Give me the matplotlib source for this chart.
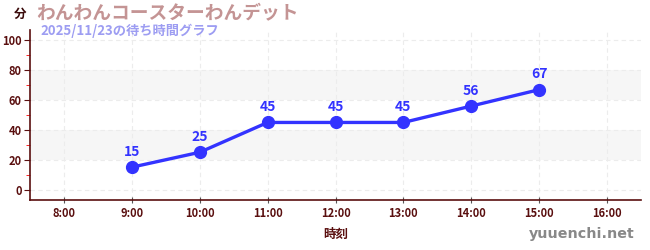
import matplotlib
matplotlib.use("Agg")
import matplotlib.pyplot as plt
from matplotlib.ticker import MultipleLocator

plt.rcParams['font.family'] = ['Noto Sans CJK JP', 'DejaVu Sans']

# データ
hours = [9, 10, 11, 12, 13, 14, 15]
waits = [15, 25, 45, 45, 45, 56, 67]
tick_hours = [8, 9, 10, 11, 12, 13, 14, 15, 16]
tick_labels = [f"{h}:00" for h in tick_hours]
bands = [(20, 40), (60, 80)]

title = "わんわんコースターわんデット"
subtitle = "2025/11/23の待ち時間グラフ"

dark = "#5a0f0f"
blue = "#3333ff"

fig = plt.figure(figsize=(6.5, 2.5), dpi=100)
ax = fig.add_axes([30 / 650, 50 / 250, 611 / 650, 170 / 250])

for lo, hi in bands:
    ax.axhspan(lo, hi, color="#f6f6f6", zorder=0, lw=0)

ax.plot(hours, waits, color=blue, lw=2.4, marker="o", ms=8.5, zorder=3)
for h, w in zip(hours, waits):
    ax.annotate(str(w), (h, w), xytext=(0, 6), textcoords="offset points",
                ha="center", va="bottom", color=blue, fontsize=10,
                fontweight="bold")

ax.set_xlim(7.5, 16.5)
ax.set_ylim(-7, 107)
ax.set_xticks(tick_hours)
ax.set_xticklabels(tick_labels)
ax.yaxis.set_major_locator(MultipleLocator(20))
ax.yaxis.set_minor_locator(MultipleLocator(10))

ax.grid(True, which="major", color="#ececec", ls=(0, (4, 3)), lw=0.8)
for s in ["top", "right"]:
    ax.spines[s].set_visible(False)
for s in ["left", "bottom"]:
    ax.spines[s].set_color(dark)
    ax.spines[s].set_linewidth(1.2)

ax.tick_params(axis="y", which="major", length=4, color=dark, labelsize=8,
               labelcolor=dark, pad=2)
ax.tick_params(axis="y", which="minor", length=3, color="red")
ax.tick_params(axis="x", which="major", length=4, direction="inout",
               color="#555555", labelsize=8, labelcolor=dark, pad=3)
for lab in ax.get_xticklabels() + ax.get_yticklabels():
    lab.set_fontweight("bold")

ax.set_xlabel("時刻", color=dark, fontsize=9, fontweight="bold", labelpad=6)

fig.text(20 / 650, 1 - 14 / 250, "分", color="#3a0a0a", fontsize=9,
         fontweight="bold", ha="center", va="center")
fig.text(36 / 650, 1 - 14 / 250, title, color="#c49494", fontsize=13.5,
         fontweight="bold", ha="left", va="center")
fig.text(40 / 650, 1 - 31 / 250, subtitle, color="#9d9df2", fontsize=9.5,
         fontweight="bold", ha="left", va="center")
fig.text(635 / 650, 1 - 234 / 250, "yuuenchi.net", color="#888888",
         fontsize=10.3, fontweight="bold", ha="right", va="center",
         family=["DejaVu Sans"])

fig.savefig("out.png", dpi=100)
